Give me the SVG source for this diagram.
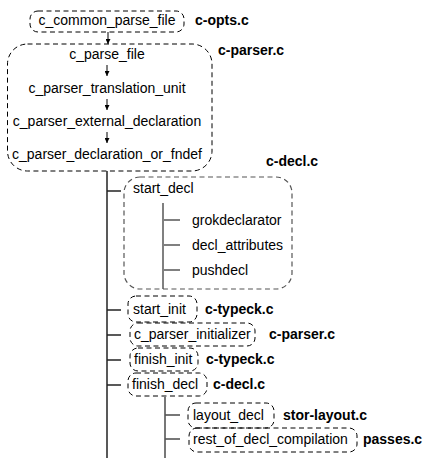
<svg xmlns="http://www.w3.org/2000/svg" width="439" height="468" viewBox="0 0 439 468">
<style>
  .t { font-family: "Liberation Sans", Arial, sans-serif; font-size: 14px; fill: #000; }
  .b { font-family: "Liberation Sans", Arial, sans-serif; font-size: 14px; font-weight: bold; fill: #000; }
  .box { fill: none; stroke: #000; stroke-width: 1; stroke-dasharray: 5 3.5; }
  .gbox { fill: none; stroke: #555; stroke-width: 1.2; stroke-dasharray: 5 3.5; }
  .main { stroke: #222; stroke-width: 1.5; fill: none; }
  .grey { stroke: #808080; stroke-width: 2; fill: none; }
  .sub { stroke: #555; stroke-width: 1.6; fill: none; }
  .arr { stroke: #000; stroke-width: 1; fill: none; marker-end: url(#ah); }
</style>
<defs>
  <marker id="ah" viewBox="0 0 6 6" refX="6" refY="3" markerWidth="5" markerHeight="5" markerUnits="userSpaceOnUse" orient="auto">
    <path d="M0,0 L6,3 L0,6 z" fill="#000"/>
  </marker>
</defs>
<rect width="439" height="468" fill="#fff"/>

<g id="connectors">
  <line class="arr" x1="108" y1="32" x2="108" y2="44"/>
  <line class="arr" x1="107" y1="65" x2="107" y2="76"/>
  <line class="arr" x1="107" y1="99" x2="107" y2="110"/>
  <line class="arr" x1="107" y1="132" x2="107" y2="143"/>
  <line class="main" x1="107" y1="171" x2="107" y2="458"/>
  <line class="main" x1="107" y1="191" x2="121" y2="191"/>
  <line class="main" x1="107" y1="310" x2="121" y2="310"/>
  <line class="main" x1="107" y1="335" x2="121" y2="335"/>
  <line class="main" x1="107" y1="360" x2="121" y2="360"/>
  <line class="main" x1="107" y1="385" x2="121" y2="385"/>
  <line class="grey" x1="163" y1="203" x2="163" y2="289"/>
  <line class="grey" x1="163" y1="220" x2="180" y2="220"/>
  <line class="grey" x1="163" y1="245" x2="180" y2="245"/>
  <line class="grey" x1="163" y1="270" x2="180" y2="270"/>
  <line class="sub" x1="165" y1="397" x2="165" y2="458"/>
  <line class="sub" x1="165" y1="415" x2="180" y2="415"/>
  <line class="sub" x1="165" y1="439" x2="180" y2="439"/>
</g>

<g id="c_common_parse_file">
  <rect class="box" x="30" y="11" width="154" height="21" rx="8"/>
  <text class="t" x="107" y="25" text-anchor="middle">c_common_parse_file</text>
  <text class="b" x="195" y="25">c-opts.c</text>
</g>

<g id="c_parser_group">
  <rect class="box" x="7.5" y="44" width="204.5" height="127" rx="20"/>
  <text class="b" x="218" y="55">c-parser.c</text>
  <g id="c_parse_file"><text class="t" x="107" y="59" text-anchor="middle">c_parse_file</text></g>
  <g id="c_parser_translation_unit"><text class="t" x="107" y="93" text-anchor="middle">c_parser_translation_unit</text></g>
  <g id="c_parser_external_declaration"><text class="t" x="107" y="126" text-anchor="middle">c_parser_external_declaration</text></g>
  <g id="c_parser_declaration_or_fndef"><text class="t" x="107" y="159" text-anchor="middle">c_parser_declaration_or_fndef</text></g>
</g>

<g id="start_decl">
  <rect class="gbox" x="124" y="177" width="168" height="112" rx="16"/>
  <text class="b" x="266" y="166">c-decl.c</text>
  <text class="t" x="133" y="193">start_decl</text>
  <g id="grokdeclarator"><text class="t" x="192" y="225">grokdeclarator</text></g>
  <g id="decl_attributes"><text class="t" x="192" y="250">decl_attributes</text></g>
  <g id="pushdecl"><text class="t" x="192" y="275">pushdecl</text></g>
</g>

<g id="start_init">
  <rect class="box" x="128" y="296" width="69" height="26" rx="8"/>
  <text class="t" x="133" y="314">start_init</text>
  <text class="b" x="205" y="314">c-typeck.c</text>
</g>

<g id="c_parser_initializer">
  <rect class="box" x="130" y="323" width="125" height="23" rx="8"/>
  <text class="t" x="134" y="339">c_parser_initializer</text>
  <text class="b" x="269" y="339">c-parser.c</text>
</g>

<g id="finish_init">
  <rect class="box" x="130" y="348" width="68" height="23" rx="8"/>
  <text class="t" x="134" y="364">finish_init</text>
  <text class="b" x="206" y="364">c-typeck.c</text>
</g>

<g id="finish_decl">
  <rect class="box" x="128" y="373" width="79" height="23" rx="8"/>
  <text class="t" x="132" y="389">finish_decl</text>
  <text class="b" x="213" y="389">c-decl.c</text>
</g>

<g id="layout_decl">
  <rect class="box" x="188" y="403" width="86" height="25" rx="8"/>
  <text class="t" x="193" y="420">layout_decl</text>
  <text class="b" x="283" y="420">stor-layout.c</text>
</g>

<g id="rest_of_decl_compilation">
  <rect class="box" x="189" y="428" width="168" height="24" rx="8"/>
  <text class="t" x="193" y="444">rest_of_decl_compilation</text>
  <text class="b" x="363" y="444">passes.c</text>
</g>
</svg>
